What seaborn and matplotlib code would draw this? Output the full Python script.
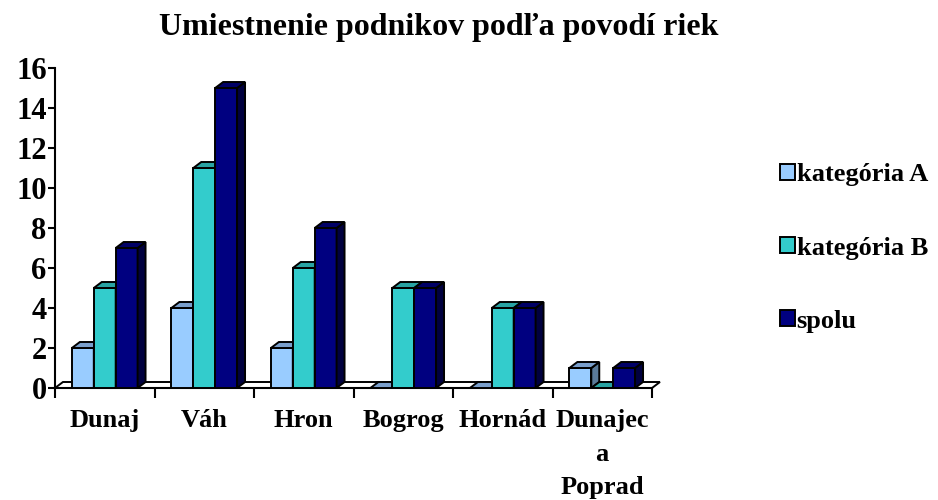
"""Umiestnenie podnikov podľa povodí riek - stĺpcový graf s 3D efektom."""
import numpy as np
import pandas as pd
import matplotlib
matplotlib.use("Agg")
import matplotlib.pyplot as plt
import seaborn as sns
from matplotlib.patches import Polygon

rivers = ["Dunaj", "Váh", "Hron", "Bogrog", "Hornád", "Dunajec\na\nPoprad"]
series = ["kategória A", "kategória B", "spolu"]
kat_a = [2, 4, 2, 0, 0, 1]
kat_b = [5, 11, 6, 5, 4, 0]
spolu = [7, 15, 8, 5, 4, 1]

front_cols = ["#99CCFF", "#33CCCC", "#000080"]
top_cols = ["#7A9FCC", "#29A3A3", "#000066"]
side_cols = ["#5A7A99", "#1F7A7A", "#00003F"]


def main():
    df = pd.DataFrame({
        "povodie": rivers * 3,
        "seria": np.repeat(series, len(rivers)),
        "pocet": kat_a + kat_b + spolu,
    })

    sns.set_style("ticks")
    plt.rcParams["font.family"] = ["Liberation Serif", "DejaVu Serif"]
    plt.rcParams["font.weight"] = "bold"
    for key in ["text.color", "axes.labelcolor", "xtick.color", "ytick.color", "axes.edgecolor"]:
        plt.rcParams[key] = "black"

    fig = plt.figure(figsize=(9.38, 5.0), dpi=100)
    ax = fig.add_axes([55 / 938, 112 / 500, 597 / 938, 320 / 500])

    sns.barplot(data=df, x="povodie", y="pocet", hue="seria", palette=front_cols,
                width=0.66, saturation=1, edgecolor="black", linewidth=1.4, ax=ax)

    ax.set_xlim(-0.5, len(rivers) - 0.5)
    ax.set_ylim(0, 16)
    dx, dy = 0.08, 0.3  # hĺbka 3D efektu v dátových jednotkách

    # podlaha
    x0, x1 = -0.5, len(rivers) - 0.5
    ax.add_patch(Polygon([(x0, 0), (x1, 0), (x1 + dx, dy), (x0 + dx, dy)],
                         closed=True, facecolor="white", edgecolor="black",
                         linewidth=1.4, zorder=2, clip_on=False))

    for i, cont in enumerate(ax.containers):
        for bar in cont:
            x, w, h = bar.get_x(), bar.get_width(), bar.get_height()
            bar.set_zorder(3 + i)
            top = [(x, h), (x + w, h), (x + w + dx, h + dy), (x + dx, h + dy)]
            side = [(x + w, 0), (x + w + dx, dy), (x + w + dx, h + dy), (x + w, h)]
            ax.add_patch(Polygon(side, closed=True, facecolor=side_cols[i],
                                 edgecolor="black", linewidth=1.4,
                                 zorder=3 + i, clip_on=False))
            ax.add_patch(Polygon(top, closed=True, facecolor=top_cols[i],
                                 edgecolor="black", linewidth=1.4,
                                 zorder=3 + i, clip_on=False))

    ax.set_yticks(range(0, 17, 2))
    ax.set_xticks(range(len(rivers)))
    ax.set_xticklabels(rivers, linespacing=1.6, fontweight="bold")
    ax.set_xticks(np.arange(-0.5, len(rivers), 1), minor=True)
    ax.tick_params(axis="y", length=5, width=1.5, pad=1, labelsize=22)
    ax.tick_params(axis="x", which="major", length=0, pad=15, labelsize=19)
    ax.tick_params(axis="x", which="minor", length=7, width=1.5)
    ax.set_xlabel("")
    ax.set_ylabel("")
    sns.despine(ax=ax)
    ax.spines["left"].set_linewidth(1.5)
    ax.spines["bottom"].set_linewidth(1.5)

    handles, labels = ax.get_legend_handles_labels()
    ax.get_legend().remove()
    fig.legend(handles, labels, loc="center left", bbox_to_anchor=(780 / 938, 252 / 500),
               frameon=False, prop={"size": 19, "weight": "bold"},
               handlelength=0.55, handleheight=0.55, handletextpad=0.08,
               labelspacing=1.9, borderpad=0, borderaxespad=0)

    fig.text(439 / 938, 1 - 28 / 500, "Umiestnenie podnikov podľa povodí riek",
             ha="center", va="center", fontsize=23, fontweight="bold")

    fig.savefig("out.png", dpi=100)
    plt.close(fig)


if __name__ == "__main__":
    main()
